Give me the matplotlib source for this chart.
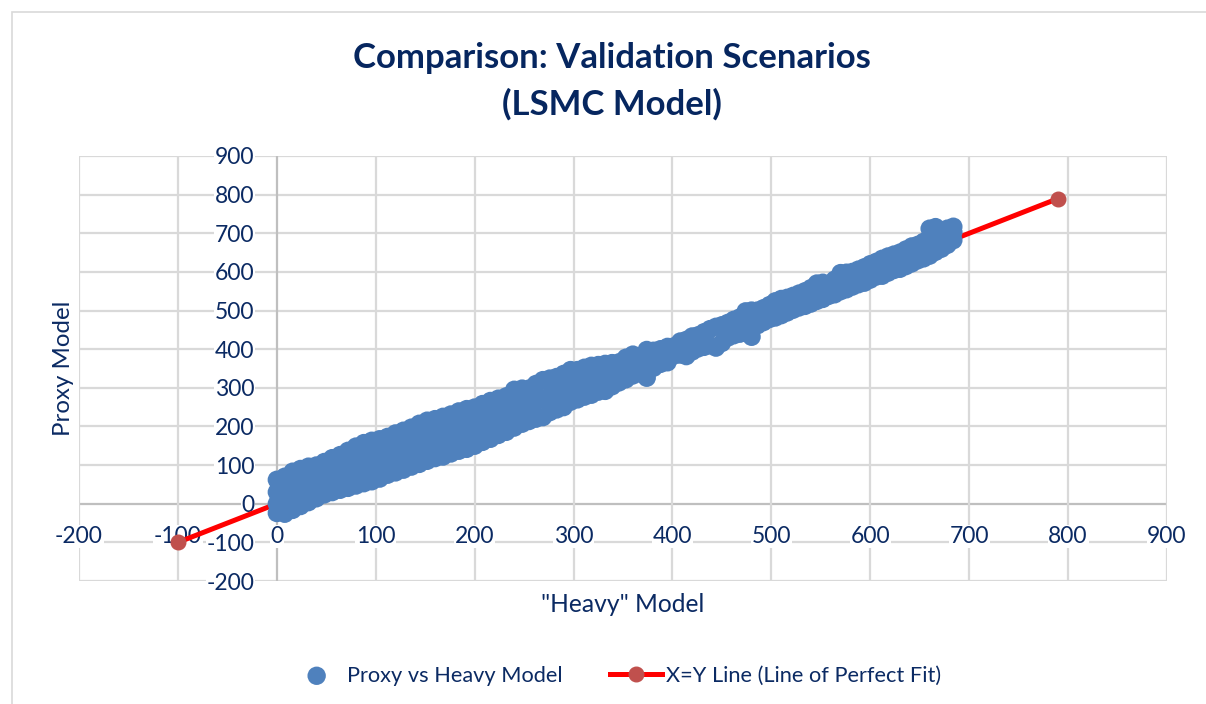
import matplotlib.pyplot as plt
from matplotlib.patches import Rectangle

plt.rcParams['font.family'] = ['Lato', 'DejaVu Sans']
plt.rcParams['axes.unicode_minus'] = False

NAVY = '#0B2A63'
GRID = '#D9D9D9'

# 散点：估计值，按 x 分列，每列几个 y
# 左段，带子较宽
heavy_a = [0, 8, 16, 24, 32, 40, 48, 56, 64, 72, 80, 88, 96, 104, 112, 120, 128, 136, 144, 152, 160, 168, 176, 184, 192, 200, 208, 216, 224, 232, 240, 248]
proxy_a_low = [-24, -26, -16, -6, 4, 14, 24, 30, 36, 41, 47, 53, 58, 65, 75, 81, 88, 96, 103, 111, 118, 122, 130, 137, 142, 150, 160, 168, 178, 186, 197, 207]
proxy_a_mid1 = [0, 2, 10, 28, 38, 45, 54, 62, 68, 75, 83, 90, 95, 101, 110, 117, 124, 132, 140, 148, 154, 159, 167, 174, 179, 186, 195, 203, 212, 220, 232, 240]
proxy_a_mid2 = [30, 34, 44, 55, 64, 70, 78, 86, 94, 102, 112, 120, 125, 131, 138, 146, 153, 161, 170, 178, 183, 189, 195, 203, 208, 213, 222, 230, 238, 245, 260, 265]
proxy_a_high = [62, 70, 83, 90, 96, 99, 108, 118, 126, 137, 148, 157, 163, 167, 173, 182, 189, 197, 207, 215, 219, 225, 231, 239, 245, 249, 258, 266, 272, 278, 295, 298]

# 中段
heavy_b = [255, 262, 269, 276, 283, 290, 297, 304, 311, 318, 325, 332, 339, 346, 353, 360, 367, 374, 381, 388, 395]
proxy_b_low = [214, 220, 224, 237, 244, 250, 264, 270, 277, 282, 290, 292, 304, 314, 322, 332, 338, 326, 352, 362, 366]
proxy_b_mid = [255, 265, 272, 280, 286, 293, 305, 308, 315, 320, 325, 328, 335, 341, 351, 360, 360, 365, 376, 382, 387]
proxy_b_high = [298, 310, 320, 324, 328, 336, 346, 346, 352, 357, 359, 362, 364, 366, 378, 386, 379, 398, 396, 400, 406]

# 右段，带子很窄
heavy_c = [402, 408, 414, 420, 426, 432, 438, 444, 450, 456, 462, 468, 474, 480, 486, 492, 498, 504, 510, 516, 522, 528, 534, 540, 546, 552, 558, 564, 570, 576, 582, 588, 594, 600, 606, 612, 618, 624, 630, 636, 642, 648, 654, 660, 666, 672, 678, 684]
proxy_c_low = [384, 386, 382, 394, 402, 406, 410, 404, 416, 430, 436, 440, 442, 432, 462, 470, 478, 482, 488, 495, 502, 508, 512, 518, 525, 530, 538, 542, 550, 555, 562, 568, 572, 580, 588, 590, 598, 605, 608, 615, 622, 630, 635, 642, 652, 660, 670, 682]
proxy_c_high = [408, 420, 424, 433, 436, 444, 452, 458, 462, 468, 476, 482, 498, 500, 500, 506, 514, 524, 530, 533, 538, 544, 550, 558, 570, 572, 566, 580, 597, 598, 600, 606, 612, 620, 626, 634, 640, 645, 650, 658, 666, 670, 678, 712, 716, 708, 712, 717]

# 补几个点，填带子里的空隙
heavy_d = [468, 474, 480, 486, 660, 666, 672, 678, 684]
proxy_d = [462, 470, 465, 485, 680, 688, 690, 695, 703]

# X=Y 线
line_x = [-100, 790]
line_y = [-100, 790]

x_ticks = list(range(-200, 1000, 100))
y_ticks = list(range(-200, 1000, 100))

heavy = []
proxy = []
for ys in [proxy_a_low, proxy_a_mid1, proxy_a_mid2, proxy_a_high]:
    heavy += heavy_a
    proxy += ys
for ys in [proxy_b_low, proxy_b_mid, proxy_b_high]:
    heavy += heavy_b
    proxy += ys
for ys in [proxy_c_low, proxy_c_high]:
    heavy += heavy_c
    proxy += ys
heavy += heavy_d
proxy += proxy_d

fig = plt.figure(figsize=(12.06, 7.04), dpi=100)
fig.patch.set_facecolor('white')

# 图表外框
fig.add_artist(Rectangle((12 / 1206, -0.01), 1.1, 1 - 12 / 704 + 0.01, transform=fig.transFigure,
                         fill=False, edgecolor='#D9D9D9', linewidth=1.2))

ax = fig.add_axes([79 / 1206, 1 - 581 / 704, 1088 / 1206, 425 / 704])
ax.set_xlim(-200, 900)
ax.set_ylim(-200, 900)
ax.set_xticks(x_ticks)
ax.set_yticks(y_ticks)
ax.grid(True, color=GRID, linewidth=1.6)
ax.set_axisbelow(True)
# x 轴排在 y 轴上面，横向网格线不压住 x 刻度文字
ax.xaxis.set_zorder(0.6)

# 刻度文字放在 0 轴旁边，像 Excel 那样
ax.spines['left'].set_position(('data', 0))
ax.spines['bottom'].set_position(('data', 0))

# 不用边框，0 处的网格线颜色深一点当坐标轴
for side in ['top', 'right', 'left', 'bottom']:
    ax.spines[side].set_visible(False)
ax.xaxis.get_gridlines()[x_ticks.index(0)].set_color('#BFBFBF')
ax.yaxis.get_gridlines()[y_ticks.index(0)].set_color('#BFBFBF')

ax.tick_params(axis='x', length=0, pad=16, labelsize=16.5, labelcolor=NAVY)
ax.tick_params(axis='y', length=0, pad=16, labelsize=16.5, labelcolor=NAVY)

# 刻度文字有白底，网格线不穿过去
for lab in ax.get_xticklabels() + ax.get_yticklabels():
    lab.set_bbox(dict(facecolor='white', edgecolor='none', pad=0.5))

line, = ax.plot(line_x, line_y, color='#FF0000', linewidth=3.6, marker='o', markersize=10.5,
                markerfacecolor='#C0504D', markeredgecolor='#C0504D', zorder=3,
                label='X=Y Line (Line of Perfect Fit)', clip_on=False)

dots = ax.scatter(heavy, proxy, s=175, color='#4F81BD', edgecolors='none', zorder=4,
                  label='Proxy vs Heavy Model', clip_on=False)

ax.set_xlabel('"Heavy" Model', fontsize=17.7, color=NAVY, va='center')
ax.xaxis.set_label_coords(0.5, -24 / 425)
ax.set_ylabel('Proxy Model', fontsize=17.3, color=NAVY, va='center')
ax.yaxis.set_label_coords(-15 / 1088, 0.5)

fig.text(612 / 1206, 1 - 58 / 704, 'Comparison: Validation Scenarios', ha='center', va='center',
         fontsize=25, fontweight='bold', color='#06265F')
fig.text(612 / 1206, 1 - 104 / 704, '(LSMC Model)', ha='center', va='center',
         fontsize=25, fontweight='bold', color='#06265F')

fig.legend(handles=[dots, line], loc='center', bbox_to_anchor=(616 / 1206, 1 - 675.5 / 704), ncol=2,
           frameon=False, fontsize=15.7, labelcolor=NAVY, columnspacing=2.15, handlelength=2.4,
           handletextpad=0.2, scatterpoints=1)

fig.savefig('out.png', dpi=100)
